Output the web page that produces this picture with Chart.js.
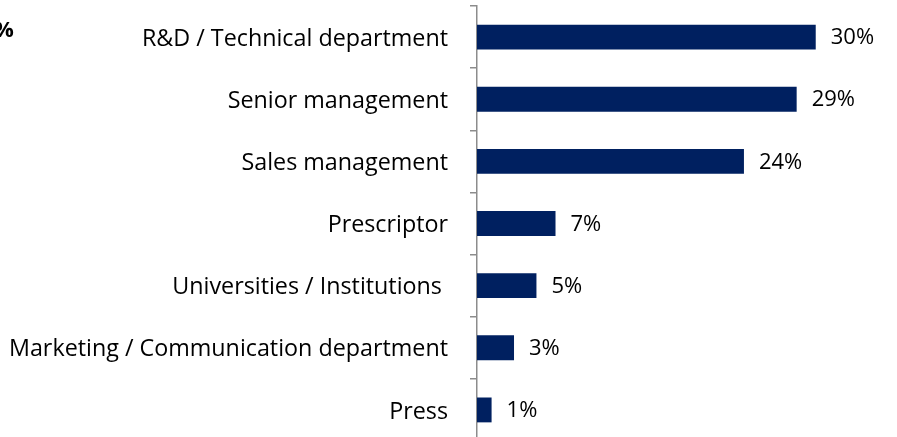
<!DOCTYPE html>
<html>
<head>
<meta charset="utf-8">
<script src="https://cdn.jsdelivr.net/npm/chart.js@4/dist/chart.umd.min.js"></script>
<style>
html,body{margin:0;padding:0;background:#fff;overflow:hidden;width:897px;height:437px;}
#wrap{position:absolute;left:0;top:0;width:897px;height:443px;}
#pct{position:absolute;left:-6px;top:13px;font:bold 22px "Open Sans", sans-serif;color:#000;}
</style>
</head>
<body>
<div id="wrap"><canvas id="c" width="897" height="443"></canvas></div>
<div id="pct">%</div>
<script>
const categories = [
  "R&D / Technical department",
  "Senior management",
  "Sales management",
  "Prescriptor",
  "Universities / Institutions ",
  "Marketing / Communication department",
  "Press"
];
const values = [30.2, 28.5, 23.8, 7.0, 5.3, 3.3, 1.3];
const valueLabels = ["30%", "29%", "24%", "7%", "5%", "3%", "1%"];

const FONT = "'Open Sans', sans-serif";

const dataLabelPlugin = {
  id: 'dataLabels',
  afterDatasetsDraw(chart) {
    const ctx = chart.ctx;
    const meta = chart.getDatasetMeta(0);
    ctx.save();
    ctx.font = "22px " + FONT;
    ctx.fillStyle = "#000";
    ctx.textAlign = "left";
    ctx.textBaseline = "middle";
    meta.data.forEach((bar, i) => {
      ctx.fillText(valueLabels[i], bar.x + 15, bar.y + 1);
    });
    ctx.restore();
  }
};

new Chart(document.getElementById('c'), {
  type: 'bar',
  data: {
    labels: categories,
    datasets: [{
      data: values,
      backgroundColor: '#002060',
      borderWidth: 0,
      barPercentage: 0.4,
      categoryPercentage: 1.0
    }]
  },
  options: {
    indexAxis: 'y',
    responsive: false,
    animation: false,
    devicePixelRatio: 1,
    layout: { padding: { left: 0, right: 5, top: 6, bottom: 2 } },
    plugins: { legend: { display: false }, tooltip: { enabled: false }, title: { display: false } },
    scales: {
      x: { display: false, min: 0, max: 37 },
      y: {
        afterFit(scale) { scale.width = 477; scale.paddingTop = 0; scale.paddingBottom = 0; },
        grid: {
          drawOnChartArea: false,
          drawTicks: true,
          tickLength: 7,
          color: '#8c8c8c',
          lineWidth: 1.5,
          offset: true
        },
        border: { display: true, color: '#8c8c8c', width: 1.5 },
        ticks: {
          color: '#000',
          font: { family: FONT, size: 23.3 },
          padding: 22,
          labelOffset: 2,
          autoSkip: false
        }
      }
    }
  },
  plugins: [dataLabelPlugin]
});
</script>
</body>
</html>
